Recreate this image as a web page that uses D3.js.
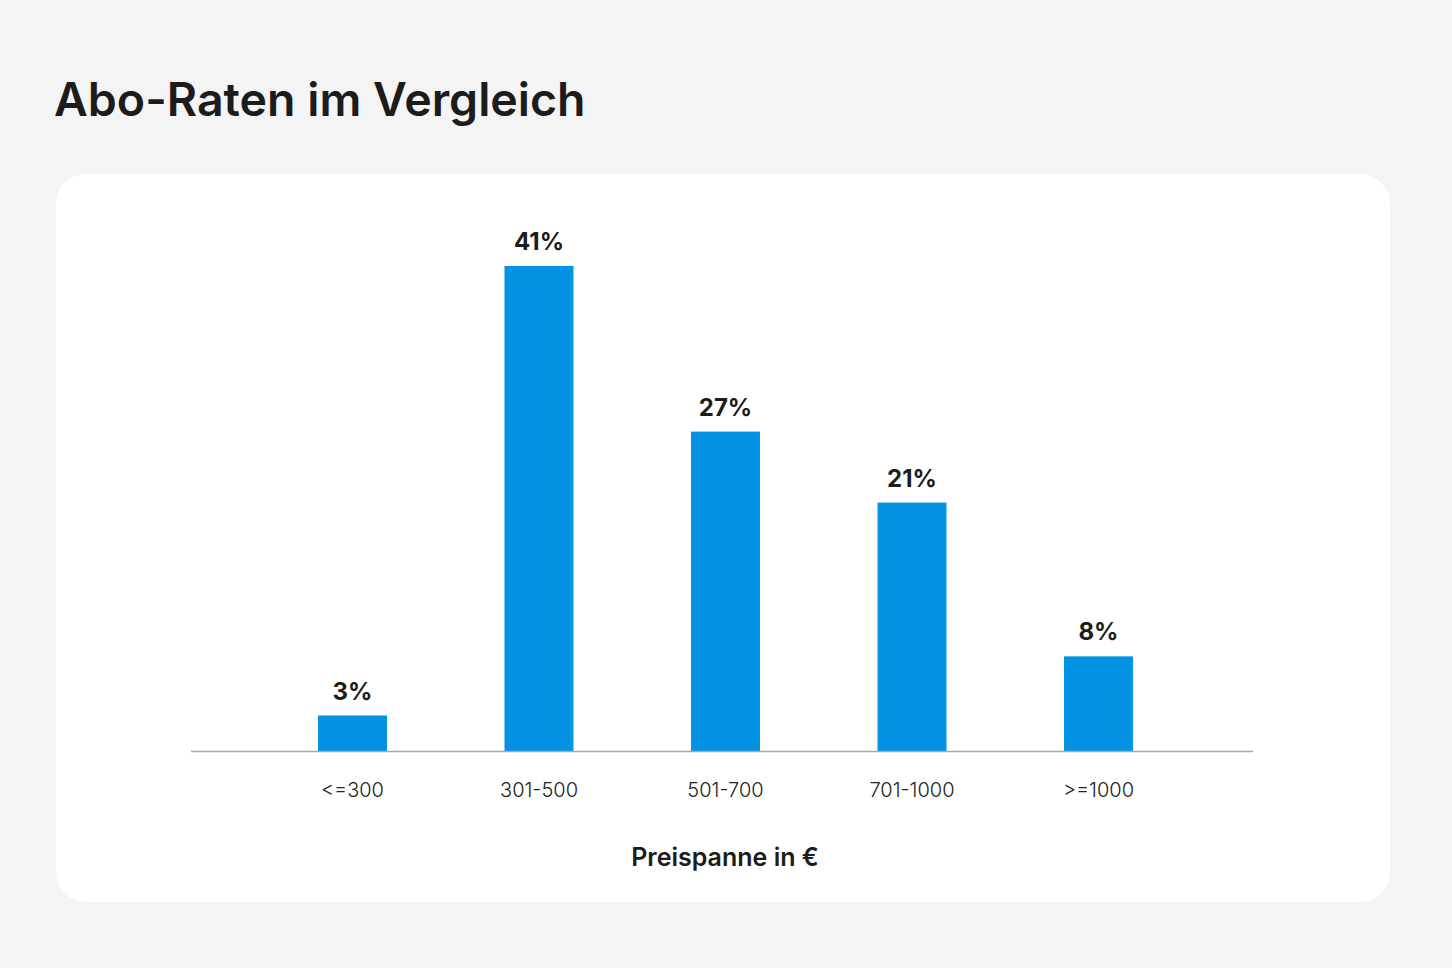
<!DOCTYPE html>
<html>
<head>
<meta charset="utf-8">
<script src="https://cdn.jsdelivr.net/npm/d3@7"></script>
<style>
  html, body { margin: 0; padding: 0; background: #f4f4f4; }
  svg { display: block; font-family: Inter, "Noto Sans", sans-serif; }
</style>
</head>
<body>
<svg width="1452" height="968"></svg>
<script>
    let categories = ["<=300", "301-500", "501-700", "701-1000", ">=1000"];
    let values = [3, 41, 27, 21, 8];
    let titleText = "Abo-Raten im Vergleich";
    let axisTitle = "Preispanne in €";

    let width = 1452;
    let height = 968;
    let card = { x: 56, y: 174, w: 1334, h: 728, r: 30 };
    let baseY = 751;

    let svg = d3.select("svg")

    svg.append("rect")
        .attr("width", width)
        .attr("height", height)
        .attr("fill", "#f4f4f4")

    svg.append("text")
        .attr("x", 54)
        .attr("y", 116)
        .text(titleText)
        .style("font-size", "46.5px")
        .style("font-weight", 600)
        .style("fill", "#1c1c1c")

    svg.append("rect")
        .attr("x", card.x)
        .attr("y", card.y)
        .attr("width", card.w)
        .attr("height", card.h)
        .attr("rx", card.r)
        .attr("fill", "#ffffff")

    let x = d3.scaleBand()
        .domain(categories)
        .range([259.25, 1191.75])
        .paddingInner(0.63)
        .paddingOuter(0.315)

    let y = d3.scaleLinear()
        .domain([0, 41])
        .range([baseY, 266])

    // bars
    svg.append("g")
        .selectAll("rect")
        .data(values)
        .join("rect")
        .attr("x", (d, i) => x(categories[i]))
        .attr("y", d => y(d))
        .attr("width", x.bandwidth())
        .attr("height", d => y(0) - y(d))
        .attr("fill", "#0293e4")

    // value labels
    svg.append("g")
        .selectAll("text")
        .data(values)
        .join("text")
        .attr("x", (d, i) => x(categories[i]) + x.bandwidth() / 2)
        .attr("y", d => y(d) - 16)
        .attr("text-anchor", "middle")
        .text(d => d + "%")
        .style("font-size", "24px")
        .style("font-weight", 700)
        .style("fill", "#1c1c1c")

    // x axis
    let xAxis = d3.axisBottom(x)
        .tickSize(0)
        .tickPadding(32)

    let xAxisG = svg.append("g")
        .attr("transform", `translate(0, ${baseY})`)
        .call(xAxis)

    xAxisG.select(".domain").remove()
    xAxisG.selectAll("text")
        .style("font-size", "20px")
        .style("font-weight", 300)
        .style("font-family", "Inter, 'Noto Sans', sans-serif")
        .style("fill", "#222")

    svg.append("line")
        .attr("x1", 191)
        .attr("x2", 1253)
        .attr("y1", baseY + 0.5)
        .attr("y2", baseY + 0.5)
        .style("stroke", "#a8a8a8")
        .style("stroke-width", "1.5px")

    svg.append("text")
        .attr("x", 725)
        .attr("y", 866)
        .attr("text-anchor", "middle")
        .text(axisTitle)
        .style("font-size", "25px")
        .style("font-weight", 600)
        .style("fill", "#1c1c1c")
</script>
</body>
</html>
